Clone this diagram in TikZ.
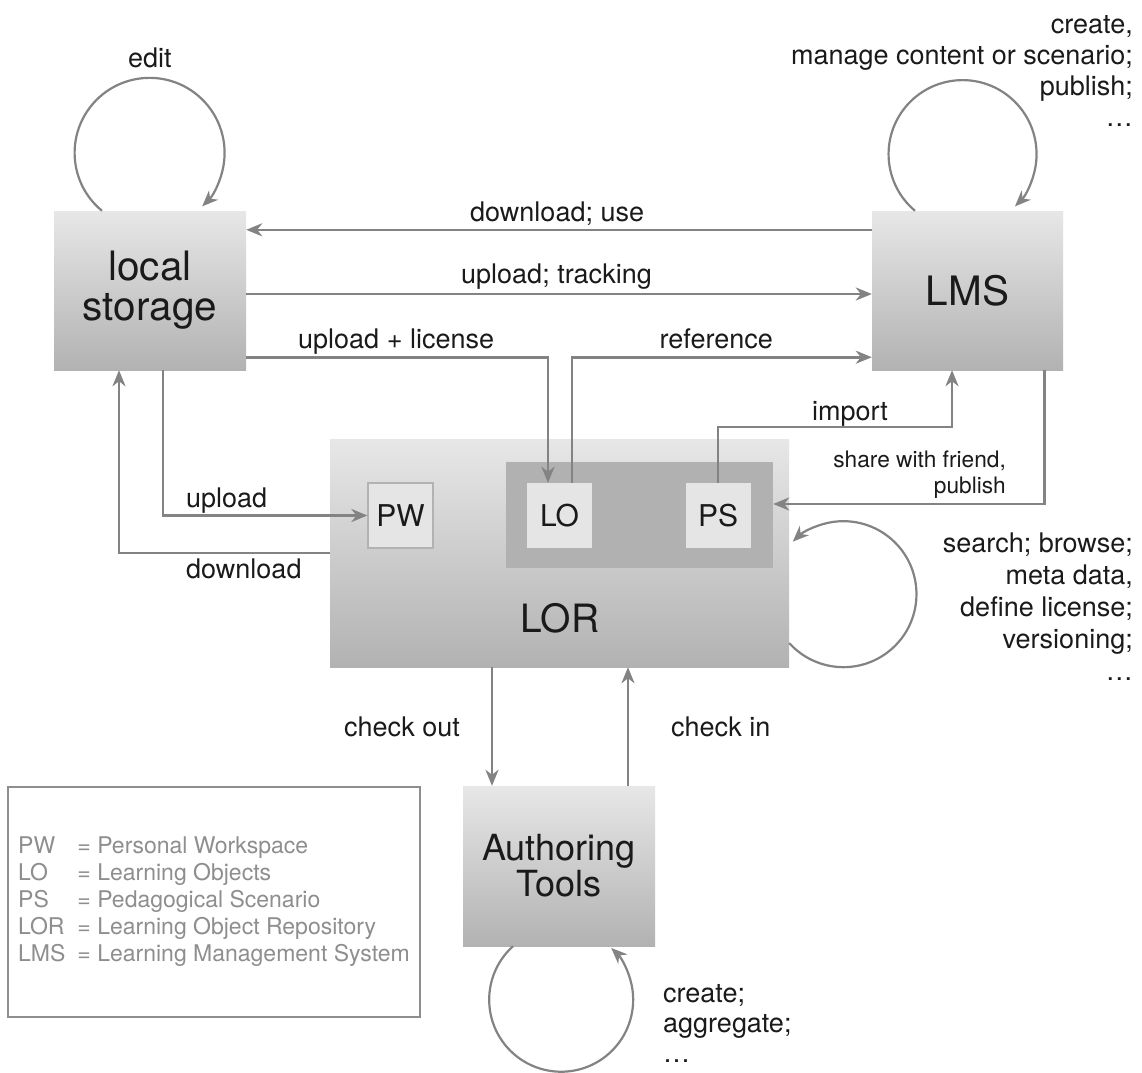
\documentclass[tikz,border=0pt]{standalone}
\usepackage{fontspec}
\setmainfont{TeX Gyre Heros}
\usetikzlibrary{arrows.meta}
\definecolor{gtop}{HTML}{E7E7E7}
\definecolor{gbot}{HTML}{B2B2B2}
\definecolor{innergray}{HTML}{B1B1B1}
\definecolor{lightbox}{HTML}{E5E5E5}
\definecolor{agray}{HTML}{838383}
\definecolor{leggray}{HTML}{8E8E8E}
\definecolor{txt}{HTML}{1A1A1A}
\begin{document}
\begin{tikzpicture}[x=1pt,y=-1pt,
  bigbox/.style={inner sep=0pt, top color=gtop, bottom color=gbot, draw=none, text=txt, align=center},
  smallbox/.style={fill=lightbox, inner sep=0pt, minimum width=65pt, minimum height=65pt, text=txt, font=\fontsize{30}{30}\selectfont},
  arr/.style={draw=agray, line width=2.6pt, -{Stealth[length=16pt,width=13pt,inset=5pt]}},
  looparr/.style={draw=agray, line width=2.2pt, -{Stealth[length=16pt,width=13pt,inset=5pt]}},
  lbl/.style={inner sep=0pt, text=txt, font=\fontsize{27}{31}\selectfont},
  smalllbl/.style={inner sep=0pt, text=txt, font=\fontsize{22.7}{26}\selectfont}]
\useasboundingbox (0,0) rectangle (1142,1072);
\fill[white] (0,0) rectangle (1142,1072);

% main boxes
\node[bigbox, minimum width=192pt, minimum height=159pt, font=\fontsize{40.5}{40}\selectfont] (ls) at (150,290.5) {local\\storage};
\node[bigbox, minimum width=191pt, minimum height=159pt, font=\fontsize{40.5}{40}\selectfont] (lms) at (967.5,290.5) {LMS};
\node[bigbox, minimum width=459pt, minimum height=228pt] (lor) at (559.5,553) {};
\node[fill=innergray, inner sep=0pt, minimum width=267pt, minimum height=106pt] (inner) at (639.5,515) {};
\node[inner sep=0pt, text=txt, font=\fontsize{39}{39}\selectfont] (lortext) at (560,618) {LOR};
\node[smallbox, draw=gbot, line width=1.2pt] (pw) at (400.5,515.5) {PW};
\node[smallbox] (lo) at (559.5,515.5) {LO};
\node[smallbox] (ps) at (718,515.5) {PS};
\node[bigbox, minimum width=192pt, minimum height=160pt, font=\fontsize{36}{36}\selectfont] (at) at (559,866) {Authoring\\Tools};

% legend
\node[draw=leggray, line width=1.8pt, inner sep=0pt, minimum width=412pt, minimum height=230pt] (legend) at (214,902) {};
\node[anchor=north west, inner sep=0pt, text=leggray, font=\fontsize{23}{27}\selectfont] (legtxt) at (18,834)
  {\begin{tabular}{@{}l@{\hspace{12pt}}l@{}}
   PW & = Personal Workspace\\
   LO & = Learning Objects\\
   PS & = Pedagogical Scenario\\
   LOR & = Learning Object Repository\\
   LMS & = Learning Management System
   \end{tabular}};

% connectors
\draw[arr] ([yshift=-19pt]lms.north west) -- ([yshift=-19pt]ls.north east);
\draw[arr] ([yshift=-3.5pt]ls.east) -- ([yshift=-3.5pt]lms.west);
\draw[arr] ([yshift=13pt]ls.south east) -| ([xshift=-11.5pt]lo.north);
\draw[arr] ([xshift=12.5pt]lo.north) |- ([yshift=13pt]lms.south west);
\coordinate (imp) at (952,427);
\draw[arr] (ps.north) |- (imp) -- (imp |- lms.south);
\draw[arr] ([xshift=-19pt]lms.south east) |- ([yshift=11pt]inner.east);
\draw[arr] ([xshift=13pt]ls.south) |- (pw.west);
\draw[arr] (lor.west) -| ([xshift=-31pt]ls.south);
\draw[arr] ([xshift=-67.5pt]lor.south) -- ([xshift=-67pt]at.north);
\draw[arr] ([xshift=69pt]at.north) -- ([xshift=68.5pt]lor.south);

% loops
\draw[looparr] ([xshift=-48pt]ls.north) arc[start angle=-129.4, end angle=-405.5, radius=75pt];
\draw[looparr] ([xshift=-52.5pt]lms.north) arc[start angle=-130, end angle=-405, radius=74pt];
\draw[looparr] ([yshift=-90pt]lor.east) arc[start angle=-138, end angle=134, radius=73pt];
\draw[looparr] ([xshift=-46pt]at.south) arc[start angle=-228, end angle=46, radius=72pt];

% labels
\node[lbl, anchor=base west] (ledit) at (128,67) {edit};
\node[lbl, anchor=base west] (ldu) at (470,221) {download; use};
\node[lbl, anchor=base west] (lut) at (461,283) {upload; tracking};
\node[lbl, anchor=base west] (lul) at (298,348) {upload + license};
\node[lbl, anchor=base east] (lref) at (773,348) {reference};
\node[lbl, anchor=base] (limp) at (850,420) {import};
\node[smalllbl, anchor=north east, align=right] (lshare) at (1006,448.8) {\strut share with friend,\\publish};
\node[lbl, anchor=base west] (lup) at (186,507) {upload};
\node[lbl, anchor=base west] (ldown) at (186,578) {download};
\node[lbl, anchor=base west] (lco) at (344,736) {check out};
\node[lbl, anchor=base west] (lci) at (671,736) {check in};
\node[lbl, anchor=north east, align=right] (llms) at (1133,11.3) {\strut create,\\manage content or scenario;\\publish;\\\ldots};
\node[lbl, font=\fontsize{27}{32}\selectfont, anchor=north east, align=right] (llor) at (1133,529.6) {\strut search; browse;\\meta data,\\define license;\\versioning;\\\ldots};
\node[lbl, font=\fontsize{27}{30}\selectfont, anchor=north west, align=left] (lat) at (663,981) {\strut create;\\aggregate;\\\ldots};
\end{tikzpicture}
\end{document}
